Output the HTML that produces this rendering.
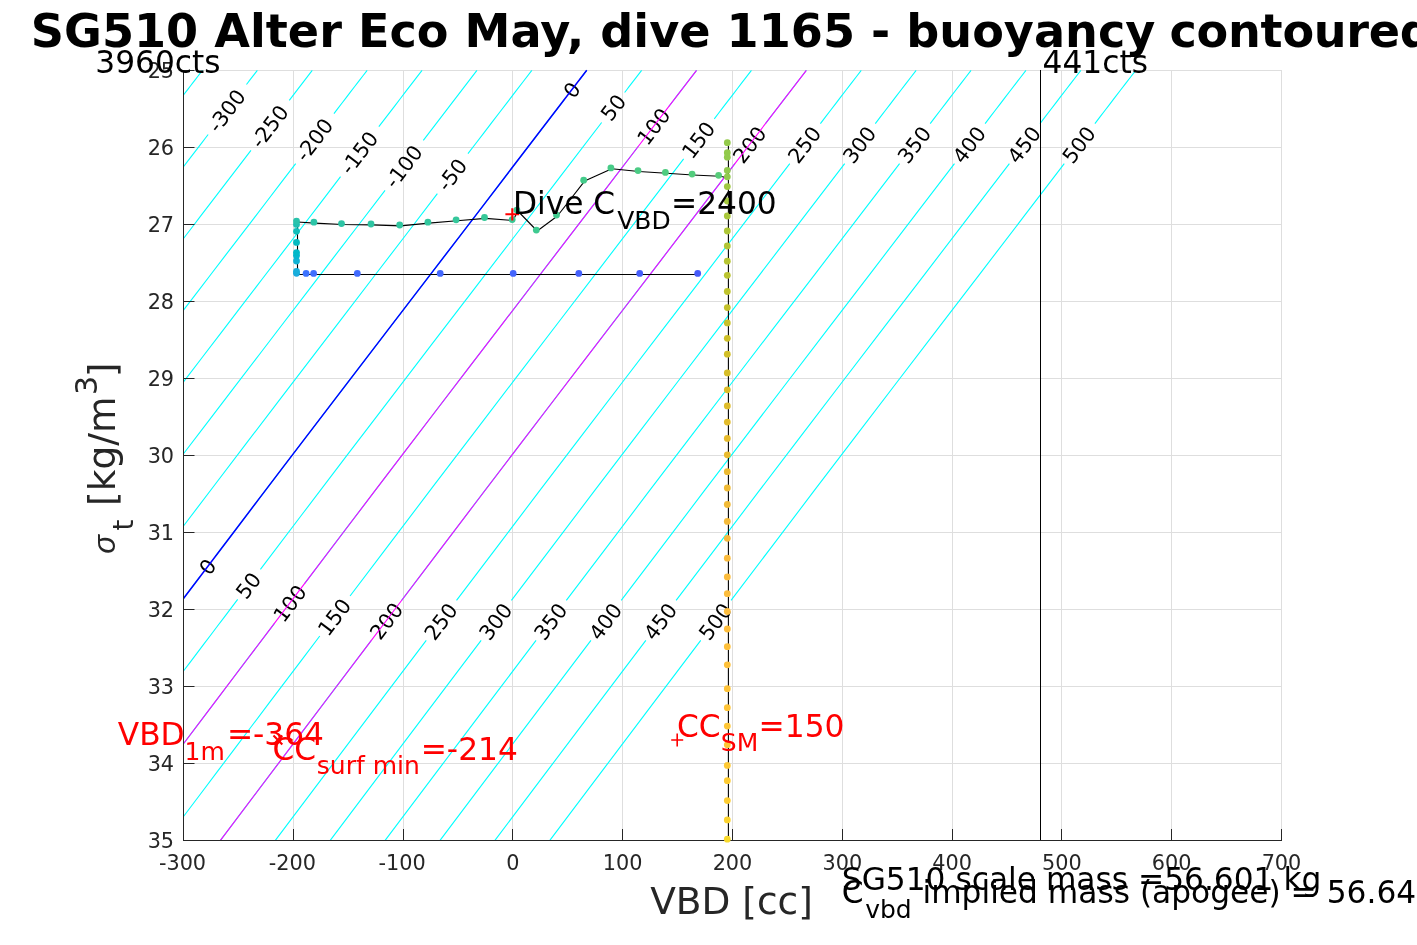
<!DOCTYPE html><html><head><meta charset="utf-8"><style>html,body{margin:0;padding:0;background:#fff;overflow:hidden}svg{display:block}text{font-family:'DejaVu Sans','Liberation Sans',sans-serif}</style></head><body>
<svg width="1417" height="945" viewBox="0 0 1417 945">
<rect width="1417" height="945" fill="#fff"/>
<path d="M293.5 70.0V840.0M403.5 70.0V840.0M512.5 70.0V840.0M622.5 70.0V840.0M732.5 70.0V840.0M842.5 70.0V840.0M952.5 70.0V840.0M1061.5 70.0V840.0M1171.5 70.0V840.0M1281.5 70.0V840.0M183.0 70.5H1282.0M183.0 147.5H1282.0M183.0 224.5H1282.0M183.0 301.5H1282.0M183.0 378.5H1282.0M183.0 455.5H1282.0M183.0 532.5H1282.0M183.0 609.5H1282.0M183.0 686.5H1282.0M183.0 763.5H1282.0" stroke="#dedede" stroke-width="1" fill="none"/>
<polyline points="202.45,70.30 200.08,73.39 197.71,76.48 195.34,79.57 192.97,82.66 190.60,85.75 188.24,88.84 185.87,91.93 183.50,95.02" stroke="#00ffff" stroke-width="1.1" fill="none"/>
<polyline points="257.35,70.30 255.99,72.08 254.63,73.85 253.27,75.62 251.90,77.40 250.54,79.17 249.18,80.95 247.82,82.72 246.46,84.50" stroke="#00ffff" stroke-width="1.1" fill="none"/>
<polyline points="208.16,134.50 205.07,138.53 201.99,142.55 198.91,146.58 195.83,150.61 192.74,154.64 189.66,158.66 186.58,162.69 183.50,166.72" stroke="#00ffff" stroke-width="1.1" fill="none"/>
<polyline points="312.25,70.30 309.37,74.05 306.50,77.80 303.62,81.55 300.75,85.30 297.87,89.05 295.00,92.80 292.13,96.55 289.25,100.30" stroke="#00ffff" stroke-width="1.1" fill="none"/>
<polyline points="250.96,150.30 242.53,161.33 234.09,172.35 225.66,183.38 217.23,194.40 208.80,205.43 200.37,216.45 191.95,227.48 183.50,238.50" stroke="#00ffff" stroke-width="1.1" fill="none"/>
<polyline points="367.15,70.30 363.00,75.71 358.85,81.12 354.70,86.54 350.55,91.95 346.40,97.36 342.26,102.77 338.11,108.19 333.96,113.60" stroke="#00ffff" stroke-width="1.1" fill="none"/>
<polyline points="295.68,163.60 281.67,181.92 267.67,200.23 253.67,218.55 239.65,236.87 225.61,255.18 211.56,273.50 197.53,291.81 183.50,310.13" stroke="#00ffff" stroke-width="1.1" fill="none"/>
<polyline points="422.05,70.30 416.64,77.35 411.24,84.40 405.83,91.45 400.43,98.50 395.03,105.55 389.63,112.60 384.23,119.65 378.83,126.70" stroke="#00ffff" stroke-width="1.1" fill="none"/>
<polyline points="340.56,176.70 320.95,202.35 301.35,228.00 281.69,253.64 262.02,279.29 242.38,304.94 222.74,330.59 203.11,356.24 183.50,381.88" stroke="#00ffff" stroke-width="1.1" fill="none"/>
<polyline points="476.95,70.30 470.24,79.05 463.53,87.80 456.83,96.55 450.12,105.30 443.42,114.05 436.72,122.80 430.02,131.55 423.32,140.30" stroke="#00ffff" stroke-width="1.1" fill="none"/>
<polyline points="385.06,190.30 359.89,223.23 334.65,256.17 309.41,289.10 284.19,322.03 258.99,354.96 233.81,387.90 208.64,420.83 183.50,453.76" stroke="#00ffff" stroke-width="1.1" fill="none"/>
<polyline points="531.85,70.30 523.86,80.72 515.86,91.15 507.88,101.57 499.89,112.00 491.90,122.42 483.92,132.85 475.94,143.27 467.96,153.70" stroke="#00ffff" stroke-width="1.1" fill="none"/>
<polyline points="437.36,193.70 405.60,235.24 373.75,276.78 341.93,318.31 310.15,359.85 278.39,401.39 246.67,442.93 215.02,484.47 183.50,526.00" stroke="#00ffff" stroke-width="1.1" fill="none"/>
<polyline points="586.75,70.30 585.84,71.49 584.93,72.67 584.02,73.86 583.11,75.05 582.20,76.24 581.29,77.42 580.38,78.61 579.46,79.80" stroke="#00ffff" stroke-width="1.1" fill="none"/>
<polyline points="564.14,99.80 520.40,156.91 476.73,214.03 432.97,271.14 389.23,328.25 345.54,385.36 301.91,442.48 258.44,499.59 215.13,556.70" stroke="#00ffff" stroke-width="1.1" fill="none"/>
<polyline points="199.97,576.70 197.91,579.42 195.85,582.14 193.79,584.85 191.73,587.57 189.68,590.29 187.62,593.01 185.56,595.73 183.50,598.45" stroke="#00ffff" stroke-width="1.1" fill="none"/>
<polyline points="641.65,70.30 639.52,73.08 637.39,75.85 635.27,78.62 633.14,81.40 631.01,84.17 628.88,86.95 626.76,89.72 624.63,92.50" stroke="#00ffff" stroke-width="1.1" fill="none"/>
<polyline points="601.65,122.50 558.89,178.36 516.18,234.22 473.35,290.09 430.58,345.95 387.87,401.81 345.21,457.67 302.76,513.54 260.40,569.40" stroke="#00ffff" stroke-width="1.1" fill="none"/>
<polyline points="237.68,599.40 230.90,608.35 224.12,617.30 217.35,626.26 210.58,635.21 203.81,644.16 197.04,653.11 190.27,662.06 183.50,671.01" stroke="#00ffff" stroke-width="1.1" fill="none"/>
<polyline points="696.55,70.30 693.08,74.83 689.61,79.35 686.14,83.88 682.67,88.40 679.20,92.92 675.74,97.45 672.27,101.97 668.80,106.50" stroke="#00ffff" stroke-width="1.1" fill="none"/>
<polyline points="638.17,146.50 596.41,201.10 554.61,255.70 512.77,310.30 470.99,364.90 429.26,419.50 387.59,474.10 346.16,528.70 304.77,583.30" stroke="#00ffff" stroke-width="1.1" fill="none"/>
<polyline points="274.49,623.30 263.10,638.35 251.71,653.40 240.34,668.45 228.96,683.50 217.59,698.55 206.22,713.61 194.86,728.66 183.50,743.71" stroke="#00ffff" stroke-width="1.1" fill="none"/>
<polyline points="751.45,70.30 746.80,76.36 742.15,82.42 737.51,88.49 732.86,94.55 728.21,100.61 723.57,106.68 718.92,112.74 714.28,118.80" stroke="#00ffff" stroke-width="1.1" fill="none"/>
<polyline points="683.66,158.80 641.87,213.45 600.00,268.10 558.14,322.75 516.33,377.40 474.57,432.05 432.93,486.70 391.46,541.35 350.05,596.00" stroke="#00ffff" stroke-width="1.1" fill="none"/>
<polyline points="319.78,636.00 302.71,658.57 285.65,681.13 268.60,703.70 251.56,726.27 234.53,748.83 217.51,771.40 200.50,793.96 183.50,816.53" stroke="#00ffff" stroke-width="1.1" fill="none"/>
<polyline points="806.35,70.30 801.24,76.96 796.13,83.62 791.03,90.29 785.92,96.95 780.81,103.61 775.71,110.27 770.61,116.94 765.50,123.60" stroke="#00ffff" stroke-width="1.1" fill="none"/>
<polyline points="734.88,163.60 693.14,218.20 651.30,272.80 609.48,327.40 567.71,382.00 526.00,436.60 484.41,491.20 442.99,545.80 401.62,600.40" stroke="#00ffff" stroke-width="1.1" fill="none"/>
<polyline points="371.35,640.40 352.44,665.40 333.55,690.40 314.67,715.40 295.80,740.40 276.94,765.40 258.09,790.40 239.25,815.40 220.43,840.40" stroke="#00ffff" stroke-width="1.1" fill="none"/>
<polyline points="861.25,70.30 856.14,76.96 851.03,83.62 845.93,90.29 840.82,96.95 835.71,103.61 830.61,110.27 825.51,116.94 820.40,123.60" stroke="#00ffff" stroke-width="1.1" fill="none"/>
<polyline points="789.78,163.60 748.04,218.20 706.20,272.80 664.38,327.40 622.61,382.00 580.90,436.60 539.31,491.20 497.89,545.80 456.52,600.40" stroke="#00ffff" stroke-width="1.1" fill="none"/>
<polyline points="426.25,640.40 407.34,665.40 388.45,690.40 369.57,715.40 350.70,740.40 331.84,765.40 312.99,790.40 294.15,815.40 275.33,840.40" stroke="#00ffff" stroke-width="1.1" fill="none"/>
<polyline points="916.15,70.30 911.04,76.96 905.93,83.62 900.83,90.29 895.72,96.95 890.61,103.61 885.51,110.27 880.41,116.94 875.30,123.60" stroke="#00ffff" stroke-width="1.1" fill="none"/>
<polyline points="844.68,163.60 802.94,218.20 761.10,272.80 719.28,327.40 677.51,382.00 635.80,436.60 594.21,491.20 552.79,545.80 511.42,600.40" stroke="#00ffff" stroke-width="1.1" fill="none"/>
<polyline points="481.15,640.40 462.24,665.40 443.35,690.40 424.47,715.40 405.60,740.40 386.74,765.40 367.89,790.40 349.05,815.40 330.23,840.40" stroke="#00ffff" stroke-width="1.1" fill="none"/>
<polyline points="971.05,70.30 965.94,76.96 960.83,83.62 955.73,90.29 950.62,96.95 945.51,103.61 940.41,110.27 935.31,116.94 930.20,123.60" stroke="#00ffff" stroke-width="1.1" fill="none"/>
<polyline points="899.58,163.60 857.84,218.20 816.00,272.80 774.18,327.40 732.41,382.00 690.70,436.60 649.11,491.20 607.69,545.80 566.32,600.40" stroke="#00ffff" stroke-width="1.1" fill="none"/>
<polyline points="536.05,640.40 517.14,665.40 498.25,690.40 479.37,715.40 460.50,740.40 441.64,765.40 422.79,790.40 403.95,815.40 385.13,840.40" stroke="#00ffff" stroke-width="1.1" fill="none"/>
<polyline points="1025.95,70.30 1020.84,76.96 1015.73,83.62 1010.63,90.29 1005.52,96.95 1000.41,103.61 995.31,110.27 990.21,116.94 985.10,123.60" stroke="#00ffff" stroke-width="1.1" fill="none"/>
<polyline points="954.48,163.60 912.74,218.20 870.90,272.80 829.08,327.40 787.31,382.00 745.60,436.60 704.01,491.20 662.59,545.80 621.22,600.40" stroke="#00ffff" stroke-width="1.1" fill="none"/>
<polyline points="590.95,640.40 572.04,665.40 553.15,690.40 534.27,715.40 515.40,740.40 496.54,765.40 477.69,790.40 458.85,815.40 440.03,840.40" stroke="#00ffff" stroke-width="1.1" fill="none"/>
<polyline points="1080.85,70.30 1075.74,76.96 1070.63,83.62 1065.53,90.29 1060.42,96.95 1055.31,103.61 1050.21,110.27 1045.11,116.94 1040.00,123.60" stroke="#00ffff" stroke-width="1.1" fill="none"/>
<polyline points="1009.38,163.60 967.64,218.20 925.80,272.80 883.98,327.40 842.21,382.00 800.50,436.60 758.91,491.20 717.49,545.80 676.12,600.40" stroke="#00ffff" stroke-width="1.1" fill="none"/>
<polyline points="645.85,640.40 626.94,665.40 608.05,690.40 589.17,715.40 570.30,740.40 551.44,765.40 532.59,790.40 513.75,815.40 494.93,840.40" stroke="#00ffff" stroke-width="1.1" fill="none"/>
<polyline points="1135.75,70.30 1130.64,76.96 1125.53,83.62 1120.43,90.29 1115.32,96.95 1110.21,103.61 1105.11,110.27 1100.01,116.94 1094.90,123.60" stroke="#00ffff" stroke-width="1.1" fill="none"/>
<polyline points="1064.28,163.60 1022.54,218.20 980.70,272.80 938.88,327.40 897.11,382.00 855.40,436.60 813.81,491.20 772.39,545.80 731.02,600.40" stroke="#00ffff" stroke-width="1.1" fill="none"/>
<polyline points="700.75,640.40 681.84,665.40 662.95,690.40 644.07,715.40 625.20,740.40 606.34,765.40 587.49,790.40 568.65,815.40 549.83,840.40" stroke="#00ffff" stroke-width="1.1" fill="none"/>
<text transform="translate(227.30 109.50) rotate(-52.54)" x="-1.3" y="7.58" font-size="20.8" text-anchor="middle" fill="#000">-300</text>
<text transform="translate(270.10 125.30) rotate(-52.55)" x="-1.3" y="7.58" font-size="20.8" text-anchor="middle" fill="#000">-250</text>
<text transform="translate(314.82 138.60) rotate(-52.56)" x="-1.3" y="7.58" font-size="20.8" text-anchor="middle" fill="#000">-200</text>
<text transform="translate(359.69 151.70) rotate(-52.57)" x="-1.3" y="7.58" font-size="20.8" text-anchor="middle" fill="#000">-150</text>
<text transform="translate(404.18 165.30) rotate(-52.58)" x="-1.3" y="7.58" font-size="20.8" text-anchor="middle" fill="#000">-100</text>
<text transform="translate(452.66 173.70) rotate(-52.59)" x="-1.3" y="7.58" font-size="20.8" text-anchor="middle" fill="#000">-50</text>
<text transform="translate(571.80 89.80) rotate(-52.53)" x="0.0" y="7.58" font-size="20.8" text-anchor="middle" fill="#000">0</text>
<text transform="translate(613.14 107.50) rotate(-52.54)" x="0.0" y="7.58" font-size="20.8" text-anchor="middle" fill="#000">50</text>
<text transform="translate(653.48 126.50) rotate(-52.56)" x="0.0" y="7.58" font-size="20.8" text-anchor="middle" fill="#000">100</text>
<text transform="translate(698.96 138.80) rotate(-52.56)" x="-1.3" y="7.58" font-size="20.8" text-anchor="middle" fill="#000">150</text>
<text transform="translate(750.19 143.60) rotate(-52.57)" x="-1.3" y="7.58" font-size="20.8" text-anchor="middle" fill="#000">200</text>
<text transform="translate(805.09 143.60) rotate(-52.57)" x="-1.3" y="7.58" font-size="20.8" text-anchor="middle" fill="#000">250</text>
<text transform="translate(859.99 143.60) rotate(-52.57)" x="-1.3" y="7.58" font-size="20.8" text-anchor="middle" fill="#000">300</text>
<text transform="translate(914.89 143.60) rotate(-52.57)" x="-1.3" y="7.58" font-size="20.8" text-anchor="middle" fill="#000">350</text>
<text transform="translate(969.79 143.60) rotate(-52.57)" x="-1.3" y="7.58" font-size="20.8" text-anchor="middle" fill="#000">400</text>
<text transform="translate(1024.69 143.60) rotate(-52.57)" x="-1.3" y="7.58" font-size="20.8" text-anchor="middle" fill="#000">450</text>
<text transform="translate(1079.59 143.60) rotate(-52.57)" x="-1.3" y="7.58" font-size="20.8" text-anchor="middle" fill="#000">500</text>
<text transform="translate(207.55 566.70) rotate(-52.85)" x="0.0" y="7.58" font-size="20.8" text-anchor="middle" fill="#000">0</text>
<text transform="translate(249.04 584.40) rotate(-52.86)" x="-1.3" y="7.58" font-size="20.8" text-anchor="middle" fill="#000">50</text>
<text transform="translate(289.62 603.30) rotate(-52.87)" x="0.0" y="7.58" font-size="20.8" text-anchor="middle" fill="#000">100</text>
<text transform="translate(334.91 616.00) rotate(-52.88)" x="-1.3" y="7.58" font-size="20.8" text-anchor="middle" fill="#000">150</text>
<text transform="translate(386.48 620.40) rotate(-52.88)" x="-0.6" y="7.58" font-size="20.8" text-anchor="middle" fill="#000">200</text>
<text transform="translate(441.38 620.40) rotate(-52.88)" x="-1.3" y="7.58" font-size="20.8" text-anchor="middle" fill="#000">250</text>
<text transform="translate(496.28 620.40) rotate(-52.88)" x="-1.3" y="7.58" font-size="20.8" text-anchor="middle" fill="#000">300</text>
<text transform="translate(551.18 620.40) rotate(-52.88)" x="-1.3" y="7.58" font-size="20.8" text-anchor="middle" fill="#000">350</text>
<text transform="translate(606.08 620.40) rotate(-52.88)" x="-1.3" y="7.58" font-size="20.8" text-anchor="middle" fill="#000">400</text>
<text transform="translate(660.98 620.40) rotate(-52.88)" x="-1.3" y="7.58" font-size="20.8" text-anchor="middle" fill="#000">450</text>
<text transform="translate(715.88 620.40) rotate(-52.88)" x="-1.3" y="7.58" font-size="20.8" text-anchor="middle" fill="#000">500</text>
<polyline points="586.75,70.30 561.45,103.31 536.16,136.32 510.90,169.33 485.66,202.34 460.42,235.35 435.11,268.35 409.81,301.36 384.54,334.37 359.29,367.38 334.06,400.39 308.84,433.40 283.65,466.41 258.57,499.42 233.53,532.43 208.50,565.44 183.50,598.45" stroke="#0000ff" stroke-width="1.5" fill="none"/>
<polyline points="696.55,70.30 664.29,112.39 632.07,154.48 599.87,196.56 567.68,238.65 535.42,280.74 503.18,322.83 470.97,364.92 438.80,407.00 406.66,449.09 374.63,491.18 342.69,533.27 310.79,575.36 278.92,617.44 247.08,659.53 215.27,701.62 183.50,743.71" stroke="#ff00ff" stroke-width="1.1" fill="none"/>
<polyline points="806.35,70.30 769.46,118.43 732.62,166.56 695.82,214.69 658.95,262.82 622.07,310.96 585.23,359.09 548.44,407.22 511.69,455.35 475.09,503.48 438.58,551.61 402.12,599.74 365.69,647.88 329.31,696.01 292.98,744.14 256.68,792.27 220.43,840.40" stroke="#ff00ff" stroke-width="1.1" fill="none"/>
<path d="M183.5 70V840.5H1282M183.5 840V829M293.5 840V829M403.5 840V829M512.5 840V829M622.5 840V829M732.5 840V829M842.5 840V829M952.5 840V829M1061.5 840V829M1171.5 840V829M1281.5 840V829M183 70.5H194.5M183 147.5H194.5M183 224.5H194.5M183 301.5H194.5M183 378.5H194.5M183 455.5H194.5M183 532.5H194.5M183 609.5H194.5M183 686.5H194.5M183 763.5H194.5M183 840.5H194.5" stroke="#262626" stroke-width="1" fill="none"/>
<path d="M1040.5 70V840" stroke="#000" stroke-width="1"/>
<polyline points="698.60,274.50 297.50,274.50 297.50,222.00 314.80,223.10 342.40,224.50 371.90,224.90 400.60,225.90 428.80,223.10 457.00,220.70 485.40,218.40 513.10,220.50 517.80,211.00 537.20,231.00 557.40,216.00 584.60,181.10 611.80,168.80 638.90,171.50 666.30,173.30 693.00,175.00 719.50,176.20 728.40,177.70 728.40,143.60 728.40,836.00" stroke="#000" stroke-width="1.1" fill="none" stroke-linejoin="round"/>
<circle cx="697.70" cy="273.40" r="3.4" fill="#475bf9"/>
<circle cx="639.70" cy="273.40" r="3.4" fill="#465efb"/>
<circle cx="578.80" cy="273.40" r="3.4" fill="#4561fc"/>
<circle cx="513.20" cy="273.40" r="3.4" fill="#4465fd"/>
<circle cx="440.20" cy="273.40" r="3.4" fill="#4368fe"/>
<circle cx="357.30" cy="273.40" r="3.4" fill="#416bfe"/>
<circle cx="313.60" cy="273.40" r="3.4" fill="#3f6fff"/>
<circle cx="306.10" cy="273.40" r="3.4" fill="#3b72ff"/>
<circle cx="296.50" cy="273.30" r="3.4" fill="#1ca9df"/>
<circle cx="296.50" cy="271.50" r="3.4" fill="#18aedb"/>
<circle cx="296.50" cy="261.00" r="3.4" fill="#10b2d5"/>
<circle cx="296.50" cy="255.60" r="3.4" fill="#06b5cf"/>
<circle cx="296.50" cy="252.60" r="3.4" fill="#01b8c8"/>
<circle cx="296.50" cy="242.40" r="3.4" fill="#05bbc1"/>
<circle cx="296.50" cy="231.30" r="3.4" fill="#10beba"/>
<circle cx="296.50" cy="224.40" r="3.4" fill="#1ec0b2"/>
<circle cx="296.50" cy="221.10" r="3.4" fill="#28c2ab"/>
<circle cx="313.90" cy="222.20" r="3.4" fill="#2cc4a7"/>
<circle cx="341.50" cy="223.60" r="3.4" fill="#2ec4a5"/>
<circle cx="371.00" cy="224.00" r="3.4" fill="#2fc5a2"/>
<circle cx="399.70" cy="225.00" r="3.4" fill="#31c6a0"/>
<circle cx="427.90" cy="222.20" r="3.4" fill="#33c69d"/>
<circle cx="456.10" cy="219.80" r="3.4" fill="#35c79b"/>
<circle cx="484.50" cy="217.50" r="3.4" fill="#36c898"/>
<circle cx="512.20" cy="219.60" r="3.4" fill="#39c895"/>
<circle cx="516.90" cy="210.10" r="3.4" fill="#3bc992"/>
<circle cx="536.30" cy="230.10" r="3.4" fill="#3eca90"/>
<circle cx="556.50" cy="215.10" r="3.4" fill="#40ca8d"/>
<circle cx="583.70" cy="180.20" r="3.4" fill="#44cb8a"/>
<circle cx="610.90" cy="167.90" r="3.4" fill="#47cb87"/>
<circle cx="638.00" cy="170.60" r="3.4" fill="#4bcb84"/>
<circle cx="665.40" cy="172.40" r="3.4" fill="#4fcc80"/>
<circle cx="692.10" cy="174.10" r="3.4" fill="#53cc7d"/>
<circle cx="718.60" cy="175.30" r="3.4" fill="#57cc7a"/>
<circle cx="727.30" cy="176.80" r="3.4" fill="#90ca4d"/>
<circle cx="727.30" cy="170.50" r="3.4" fill="#90ca4d"/>
<circle cx="727.30" cy="142.70" r="3.4" fill="#93ca4a"/>
<circle cx="727.30" cy="152.70" r="3.4" fill="#92ca4b"/>
<circle cx="727.30" cy="157.20" r="3.4" fill="#92ca4c"/>
<circle cx="727.30" cy="186.60" r="3.4" fill="#a0c841"/>
<circle cx="727.30" cy="201.00" r="3.4" fill="#a5c83d"/>
<circle cx="727.30" cy="216.00" r="3.4" fill="#a9c73a"/>
<circle cx="727.30" cy="231.00" r="3.4" fill="#aec637"/>
<circle cx="727.30" cy="246.00" r="3.4" fill="#b2c535"/>
<circle cx="727.30" cy="261.20" r="3.4" fill="#b7c532"/>
<circle cx="727.30" cy="275.30" r="3.4" fill="#bbc430"/>
<circle cx="727.30" cy="291.50" r="3.4" fill="#bfc32d"/>
<circle cx="727.30" cy="307.60" r="3.4" fill="#c4c22b"/>
<circle cx="727.30" cy="322.90" r="3.4" fill="#c9c129"/>
<circle cx="727.30" cy="338.30" r="3.4" fill="#cec028"/>
<circle cx="727.30" cy="354.20" r="3.4" fill="#d2bf27"/>
<circle cx="727.30" cy="372.90" r="3.4" fill="#d7be28"/>
<circle cx="727.30" cy="389.80" r="3.4" fill="#dcbd29"/>
<circle cx="727.30" cy="405.90" r="3.4" fill="#dfbc2a"/>
<circle cx="727.30" cy="422.10" r="3.4" fill="#e3bc2c"/>
<circle cx="727.30" cy="438.40" r="3.4" fill="#e6bb2d"/>
<circle cx="727.30" cy="454.80" r="3.4" fill="#e9bb2f"/>
<circle cx="727.30" cy="471.70" r="3.4" fill="#ecba32"/>
<circle cx="727.30" cy="488.00" r="3.4" fill="#efba35"/>
<circle cx="727.30" cy="504.50" r="3.4" fill="#f1ba37"/>
<circle cx="727.30" cy="521.40" r="3.4" fill="#f4ba3a"/>
<circle cx="727.30" cy="538.30" r="3.4" fill="#f7ba3c"/>
<circle cx="727.30" cy="558.20" r="3.4" fill="#fabb3d"/>
<circle cx="727.30" cy="576.90" r="3.4" fill="#fbbc3d"/>
<circle cx="727.30" cy="593.70" r="3.4" fill="#fcbd3d"/>
<circle cx="727.30" cy="611.50" r="3.4" fill="#fdbd3d"/>
<circle cx="727.30" cy="629.00" r="3.4" fill="#febe3c"/>
<circle cx="727.30" cy="646.70" r="3.4" fill="#fec03b"/>
<circle cx="727.30" cy="664.80" r="3.4" fill="#fec13a"/>
<circle cx="727.30" cy="688.70" r="3.4" fill="#fec339"/>
<circle cx="727.30" cy="707.70" r="3.4" fill="#fec438"/>
<circle cx="727.30" cy="726.10" r="3.4" fill="#fec636"/>
<circle cx="727.30" cy="744.80" r="3.4" fill="#fec735"/>
<circle cx="727.30" cy="765.40" r="3.4" fill="#fec934"/>
<circle cx="727.30" cy="780.70" r="3.4" fill="#fdcb33"/>
<circle cx="727.30" cy="800.60" r="3.4" fill="#fdcd32"/>
<circle cx="727.30" cy="819.90" r="3.4" fill="#fbd32f"/>
<circle cx="727.30" cy="839.20" r="3.4" fill="#f8d92c"/>
<path d="M505.4 214.3H519.2M512.3 208.2V220.4" stroke="#ff0000" stroke-width="2.1"/>
<path d="M671.2 740H683.2M677.2 733.6V746.4" stroke="#ff0000" stroke-width="1.6"/>
<path d="M273.5 735.6L282.3 744.4M282.3 735.6L273.5 744.4" stroke="#ff0000" stroke-width="2.1"/>
<text x="182.50" y="870" font-size="20.8" text-anchor="middle" fill="#262626">-300</text>
<text x="292.30" y="870" font-size="20.8" text-anchor="middle" fill="#262626">-200</text>
<text x="402.10" y="870" font-size="20.8" text-anchor="middle" fill="#262626">-100</text>
<text x="512.90" y="870" font-size="20.8" text-anchor="middle" fill="#262626">0</text>
<text x="622.70" y="870" font-size="20.8" text-anchor="middle" fill="#262626">100</text>
<text x="732.50" y="870" font-size="20.8" text-anchor="middle" fill="#262626">200</text>
<text x="842.30" y="870" font-size="20.8" text-anchor="middle" fill="#262626">300</text>
<text x="952.10" y="870" font-size="20.8" text-anchor="middle" fill="#262626">400</text>
<text x="1061.90" y="870" font-size="20.8" text-anchor="middle" fill="#262626">500</text>
<text x="1171.70" y="870" font-size="20.8" text-anchor="middle" fill="#262626">600</text>
<text x="1281.50" y="870" font-size="20.8" text-anchor="middle" fill="#262626">700</text>
<text x="174.1" y="77.88" font-size="20.8" text-anchor="end" fill="#262626">25</text>
<text x="174.1" y="154.90" font-size="20.8" text-anchor="end" fill="#262626">26</text>
<text x="174.1" y="231.92" font-size="20.8" text-anchor="end" fill="#262626">27</text>
<text x="174.1" y="308.94" font-size="20.8" text-anchor="end" fill="#262626">28</text>
<text x="174.1" y="385.96" font-size="20.8" text-anchor="end" fill="#262626">29</text>
<text x="174.1" y="462.98" font-size="20.8" text-anchor="end" fill="#262626">30</text>
<text x="174.1" y="540.00" font-size="20.8" text-anchor="end" fill="#262626">31</text>
<text x="174.1" y="617.02" font-size="20.8" text-anchor="end" fill="#262626">32</text>
<text x="174.1" y="694.04" font-size="20.8" text-anchor="end" fill="#262626">33</text>
<text x="174.1" y="771.06" font-size="20.8" text-anchor="end" fill="#262626">34</text>
<text x="174.1" y="848.08" font-size="20.8" text-anchor="end" fill="#262626">35</text>
<text x="95.3" y="72.6" font-size="31.25" fill="#000">3960cts</text>
<text x="1042.6" y="72.9" font-size="31.25" fill="#000">441cts</text>
<text y="213.8" font-size="31.25" fill="#000"><tspan x="512.9">Dive C</tspan><tspan x="617.2" y="228.5" font-size="25">VBD</tspan><tspan x="671" y="214.4">=2400</tspan></text>
<text y="744.5" font-size="31.25" fill="#ff0000"><tspan x="117.8">VBD</tspan><tspan x="184.6" y="760" font-size="25">1m</tspan><tspan x="226.9" y="744.5">=-364</tspan></text>
<text y="759.9" font-size="31.25" fill="#ff0000"><tspan x="272.5">CC</tspan><tspan x="316.8" y="773.6" font-size="25">surf min</tspan><tspan x="420.7" y="759.9">=-214</tspan></text>
<text y="737" font-size="31.25" fill="#ff0000"><tspan x="677">CC</tspan><tspan x="720.8" y="750.5" font-size="25">SM</tspan><tspan x="758.6" y="737">=150</tspan></text>
<text x="841.8" y="889.8" font-size="31.25" fill="#000">SG510 scale mass =56.601 kg</text>
<text y="902.9" font-size="31.25" fill="#000"><tspan x="841.8">C</tspan><tspan x="865.2" y="918.2" font-size="25">vbd</tspan><tspan x="922.5" y="902.9">implied mass (apogee) = 56.641 kg</tspan></text>
<text x="731.5" y="914.1" font-size="37.5" text-anchor="middle" fill="#262626">VBD [cc]</text>
<g transform="translate(114.9 560) rotate(-90)" fill="#262626">
<text x="6.2" y="0" font-size="31" style="font-family:'Liberation Sans',sans-serif;font-style:italic">&#963;</text>
<text x="29.4" y="18" font-size="28">t</text>
<text x="54.1" y="0" font-size="37.5">[kg/m</text>
<text x="165.1" y="-18.4" font-size="30">3</text>
<text x="182.8" y="0" font-size="37.5">]</text>
</g>
<text x="30.8" y="47" font-size="46.15" font-weight="bold" fill="#000">SG510 Alter Eco May, dive 1165 - buoyancy<tspan dx="-1.6" letter-spacing="-0.28"> contoured</tspan></text>
</svg></body></html>
